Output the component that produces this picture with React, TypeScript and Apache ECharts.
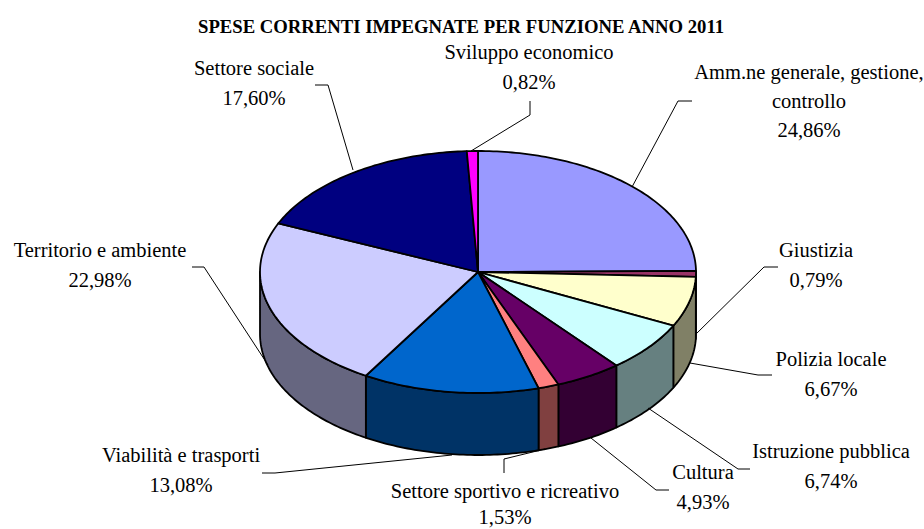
import React, { useEffect, useRef } from "react";
import * as echarts from "echarts";

const titleText = "SPESE CORRENTI IMPEGNATE PER FUNZIONE ANNO 2011";
const sliceNames = [
  "Amm.ne generale, gestione,\ncontrollo", "Giustizia", "Polizia locale", "Istruzione pubblica", "Cultura",
  "Settore sportivo e ricreativo", "Viabilità e trasporti", "Territorio e ambiente", "Settore sociale", "Sviluppo economico",
];
const sliceValues = [24.86, 0.79, 6.67, 6.74, 4.93, 1.53, 13.08, 22.98, 17.6, 0.82];
const topColors = ["#9999FF", "#993366", "#FFFFCC", "#CCFFFF", "#660066", "#FF8080", "#0066CC", "#CCCCFF", "#000080", "#FF00FF"];
const sideColors = ["#4D4D80", "#4D1A33", "#808066", "#668080", "#330033", "#804040", "#003366", "#666680", "#000040", "#800080"];
const labelAnchors = [[809, 72], [816, 250], [831, 359], [831, 451], [703, 472], [505, 491], [181, 455], [100, 250], [254, 68], [529, 52]];
const labelLineHeights = [29, 30, 30, 30, 30, 26, 30, 30, 30, 30];
const leaderLines = [
  [[692, 101], [678, 101], [632, 187]],
  [[778, 267], [764, 267], [695, 335]],
  [[772, 375], [758, 375], [690, 363]],
  [[750, 469], [738, 469], [648, 408]],
  [[669, 490], [656, 490], [591, 438]],
  [[504, 473], [504, 459], [545, 449]],
  [[262, 473], [275, 473], [452, 455]],
  [[192, 267], [204, 267], [268, 365]],
  [[315, 85], [328, 85], [353, 170]],
  [[530, 101], [530, 115], [471, 151]],
];

const CX = 478, CY = 272, RX = 218, RY = 121, DEPTH = 62;
const total = sliceValues.reduce((a, b) => a + b, 0);
const pct = (v: number) => v.toFixed(2).replace(".", ",") + "%";
const rim = (deg: number, dy = 0) => {
  const t = (deg * Math.PI) / 180;
  return [CX + RX * Math.sin(t), CY - RY * Math.cos(t) + dy];
};
const arc = (a: number, b: number, dy = 0) => {
  const pts: number[][] = [];
  for (let d = a; d < b; d += 1) pts.push(rim(d, dy));
  pts.push(rim(b, dy));
  return pts;
};

function renderSlice(params: any, api: any) {
  const i = params.dataIndex;
  let before = 0;
  for (let k = 0; k < i; k++) before += sliceValues[k];
  const a = (before / total) * 360;
  const b = a + (api.value(0) / total) * 360;
  const children: any[] = [];
  const la = Math.max(a, 90), lb = Math.min(b, 270);
  if (lb > la) {
    children.push({
      type: "polygon",
      shape: { points: [...arc(la, lb), ...arc(la, lb, DEPTH).reverse()] },
      style: { fill: sideColors[i], stroke: "#000", lineWidth: 1.8, lineJoin: "round" },
    });
  }
  children.push({
    type: "polygon",
    shape: { points: [[CX, CY], ...arc(a, b)] },
    style: { fill: topColors[i], stroke: "#000", lineWidth: 1.8, lineJoin: "round" },
  });
  return { type: "group", children };
}

export default function App() {
  const ref = useRef<HTMLDivElement>(null);
  useEffect(() => {
    document.body.style.margin = "0";
    const chart = echarts.init(ref.current!, undefined, { renderer: "svg" });
    const font = '"Liberation Serif", serif';
    chart.setOption({
      animation: false,
      backgroundColor: "#fff",
      title: {
        text: titleText, left: 198, top: 17, padding: 0,
        textStyle: { fontFamily: font, fontSize: 18.7, fontWeight: "bold", color: "#000" },
      },
      series: [{
        type: "custom", coordinateSystem: "none", renderItem: renderSlice,
        data: sliceValues.map((v) => [v]), silent: true,
      }],
      graphic: [
        ...leaderLines.map((points) => ({
          type: "polyline", shape: { points }, z: 5,
          style: { fill: "none", stroke: "#000", lineWidth: 1 },
        })),
        ...sliceNames.map((n, i) => ({
          type: "text", x: labelAnchors[i][0], y: labelAnchors[i][1] - labelLineHeights[i] / 2, z: 6,
          style: {
            text: n + "\n" + pct(sliceValues[i]),
            fontFamily: font, fontSize: 20.5, lineHeight: labelLineHeights[i], fill: "#000", align: "center", verticalAlign: "top",
          },
        })),
      ],
    });
    return () => chart.dispose();
  }, []);
  return <div ref={ref} style={{ width: 924, height: 529 }} />;
}
